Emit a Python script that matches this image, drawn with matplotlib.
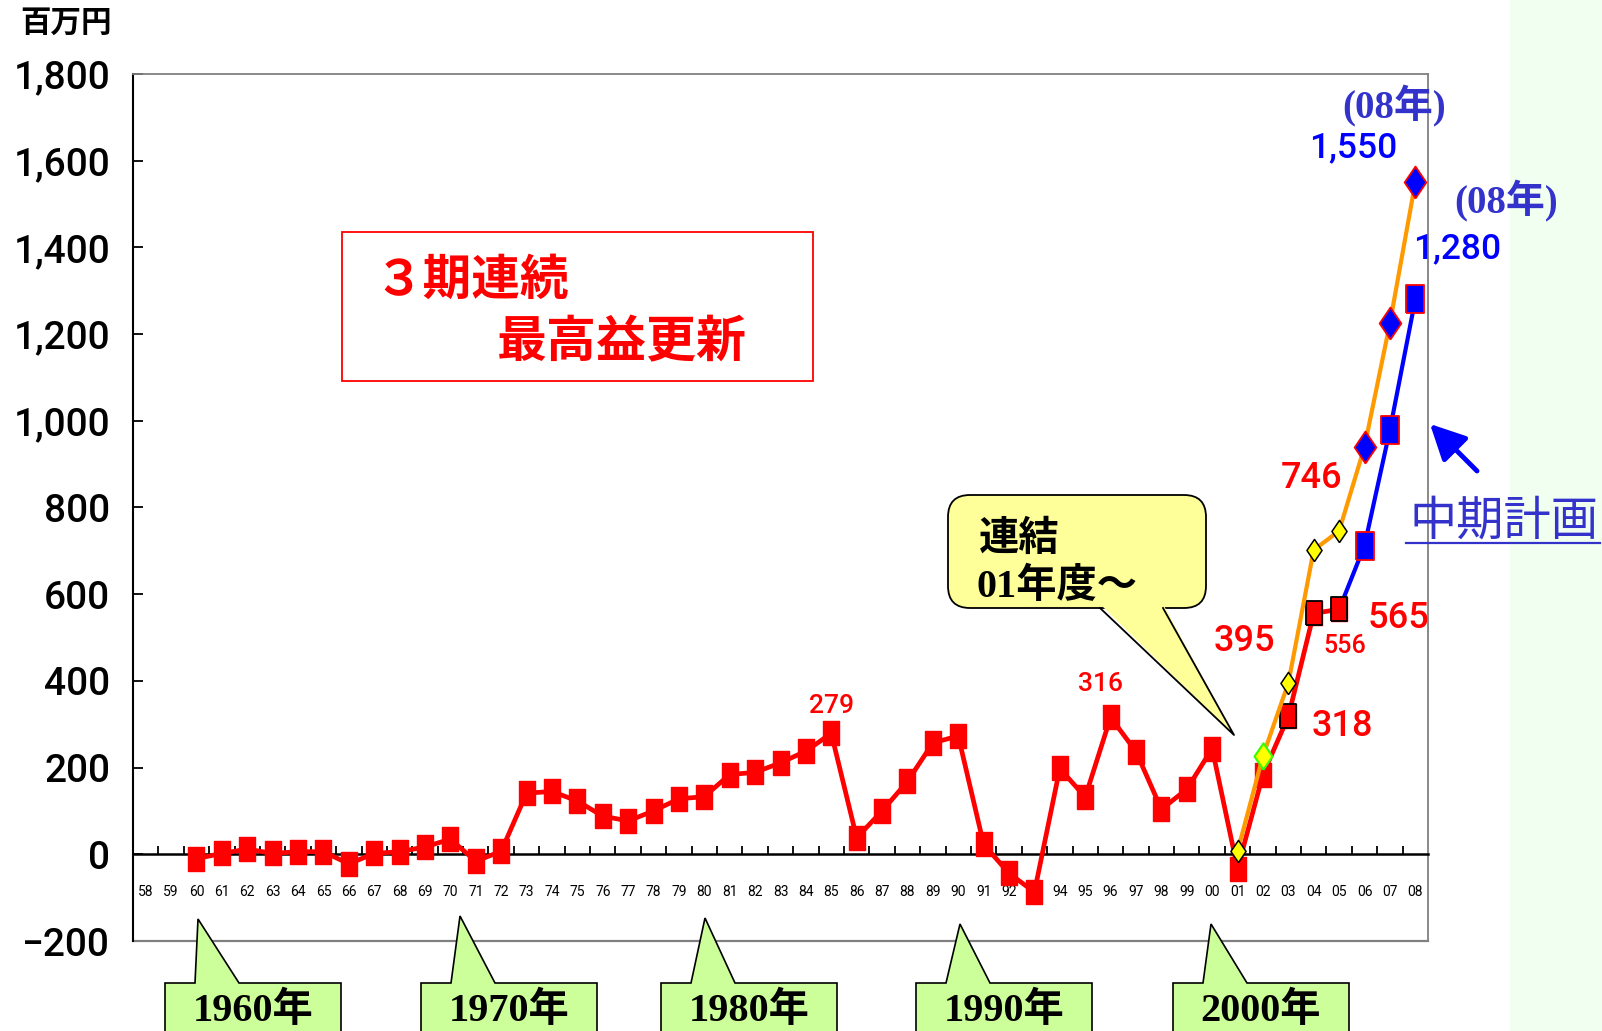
import numpy as np
import matplotlib
matplotlib.use('Agg')
import matplotlib.pyplot as plt
from matplotlib.patches import Polygon, Rectangle, FancyBboxPatch
from matplotlib import font_manager as fm


def has_font(name):
    try:
        fm.findfont(fm.FontProperties(family=name), fallback_to_default=False)
        return True
    except Exception:
        return False


NARROW = 'Liberation Sans Narrow' if has_font('Liberation Sans Narrow') else 'Roboto'
CJK = 'Noto Sans CJK JP'
SERIF = 'Liberation Serif'
plt.rcParams['font.family'] = [NARROW, CJK, 'DejaVu Sans']

# ---------------- data ----------------
years = ['58', '59', '60', '61', '62', '63', '64', '65', '66', '67', '68', '69',
         '70', '71', '72', '73', '74', '75', '76', '77', '78', '79',
         '80', '81', '82', '83', '84', '85', '86', '87', '88', '89',
         '90', '91', '92', '93', '94', '95', '96', '97', '98', '99',
         '00', '01', '02', '03', '04', '05', '06', '07', '08']

actual_years = years[2:48]          # 60 .. 05 (実績)
actual = [-10, 2, 12, 2, 6, 6, -22, 2, 6, 17,
          35, -16, 7, 141, 145, 123, 88, 77, 100, 128,
          133, 184, 189, 211, 238, 279, 38, 100, 168, 257,
          273, 23, -44, -87, 198, 132, 316, 237, 104, 150,
          244, -33, 184, 318, 556, 565]

consol_years = years[43:51]         # 01 .. 08 (連結)
consol = [7, 227, 395, 702, 746, 940, 1225, 1550]

plan_years = years[47:51]           # 05 .. 08 (中期計画)
plan = [565, 712, 979, 1280]

ytick_vals = [-200, 0, 200, 400, 600, 800, 1000, 1200, 1400, 1600, 1800]
ytick_labels = ['\u2212200', '0', '200', '400', '600', '800',
                '1,000', '1,200', '1,400', '1,600', '1,800']

decades = ['1960年', '1970年', '1980年', '1990年', '2000年']

# ---------------- figure ----------------
W, H = 1602, 1031
fig = plt.figure(figsize=(W / 100, H / 100), dpi=100)
fig.patch.set_facecolor('white')

# background layer (pale green band at right)
bg = fig.add_axes([0, 0, 1, 1], zorder=-5)
bg.set_xlim(0, W)
bg.set_ylim(H, 0)
bg.axis('off')
bg.add_patch(Rectangle((1510, 0), W - 1510, H, facecolor='#f0fff0',
                       edgecolor='none'))

L, R, T, B = 133, 1428, 74, 941
ax = fig.add_axes([L / W, 1 - B / H, (R - L) / W, (B - T) / H], zorder=0)
ax.set_facecolor('white')
ax.set_xlim(-0.5, len(years) - 0.5)
ax.set_ylim(-200, 1800)

idx = {y: i for i, y in enumerate(years)}
xa = np.array([idx[y] for y in actual_years])
xc = np.array([idx[y] for y in consol_years])
xp = np.array([idx[y] for y in plan_years])
actual = np.array(actual)
consol = np.array(consol)
plan = np.array(plan)

rect_m = [(-0.64, -1), (0.64, -1), (0.64, 1), (-0.64, 1), (-0.64, -1)]
rect_b = [(-0.65, -1), (0.65, -1), (0.65, 1), (-0.65, 1), (-0.65, -1)]
diam_m = [(0, -1), (0.68, 0), (0, 1), (-0.68, 0), (0, -1)]

# red actual line
ax.plot(xa, actual, color='#ff0000', lw=3.4, marker=rect_m, ms=17,
        mfc='#ff0000', mec='#ff0000', mew=1, zorder=3, solid_joinstyle='miter')
ax.plot(xa[-3:], actual[-3:], ls='none', marker=rect_m, ms=17,
        mfc='#ff0000', mec='black', mew=1.3, zorder=4)

# blue plan line
ax.plot(xp, plan, color='#0000ff', lw=3, zorder=3)
ax.plot(xp[1:], plan[1:], ls='none', marker=rect_b, ms=20,
        mfc='#0000ff', mec='#ff0000', mew=1.3, zorder=4)

# orange consolidated line
ax.plot(xc, consol, color='#ff9900', lw=3, zorder=5)
sel = [0, 2, 3, 4]
ax.plot(xc[sel], consol[sel], ls='none', marker=diam_m, ms=16,
        mfc='#ffff00', mec='black', mew=1.1, zorder=6)
ax.plot(xc[1:2], consol[1:2], ls='none', marker=diam_m, ms=19,
        mfc='#ffff00', mec='#33ff00', mew=1.5, zorder=6)
ax.plot(xc[5:], consol[5:], ls='none', marker=diam_m, ms=23,
        mfc='#0000ff', mec='#ff0000', mew=1.3, zorder=6)

# axes styling
for s in ['top', 'right']:
    ax.spines[s].set_color('#808080')
    ax.spines[s].set_linewidth(1.3)
ax.spines['left'].set_color('black')
ax.spines['left'].set_linewidth(1.5)
ax.spines['bottom'].set_position(('data', 0))
ax.spines['bottom'].set_color('black')
ax.spines['bottom'].set_linewidth(1.8)
ax.plot([0, 1], [0, 0], transform=ax.transAxes, color='#808080', lw=1.6,
        clip_on=False, zorder=2)

ax.set_yticks(ytick_vals)
ax.set_yticklabels(ytick_labels, fontsize=28, fontfamily=NARROW,
                   fontweight='medium')
ax.tick_params(axis='y', direction='in', length=7, width=1.3, pad=16.5)

ax.set_xticks(np.arange(len(years)))
ax.set_xticklabels(years, fontsize=10, fontfamily=NARROW)
ax.set_xticks(np.arange(len(years) - 1) + 0.5, minor=True)
ax.tick_params(axis='x', which='major', length=0, pad=22)
ax.tick_params(axis='x', which='minor', direction='in', length=6, width=1.3)


# data labels
def lab(i, v, text, dx, dy, size, color):
    ax.annotate(text, xy=(i, v), xytext=(dx, dy), textcoords='offset pixels',
                ha='center', va='center', fontsize=size, color=color,
                fontfamily=NARROW, fontweight='medium', zorder=8)


xa_l = list(xa)
xc_l = list(xc)
i85 = idx['85']; i96 = idx['96']; i03 = idx['03']; i04 = idx['04']
i05 = idx['05']; i08 = idx['08']
lab(i85, actual[xa_l.index(i85)], f'{actual[xa_l.index(i85)]}', 0, 27, 19, '#ff0000')
lab(i96, actual[xa_l.index(i96)], f'{actual[xa_l.index(i96)]}', -10, 33, 19, '#ff0000')
lab(i03, consol[xc_l.index(i03)], f'{consol[xc_l.index(i03)]}', -44, 42, 26, '#ff0000')
lab(i03, actual[xa_l.index(i03)], f'{actual[xa_l.index(i03)]}', 54, -10, 26, '#ff0000')
lab(i04, actual[xa_l.index(i04)], f'{actual[xa_l.index(i04)]}', 31, -33, 18, '#ff0000')
lab(i05, actual[xa_l.index(i05)], f'{actual[xa_l.index(i05)]}', 59, -9, 26, '#ff0000')
lab(i05, consol[xc_l.index(i05)], f'{consol[xc_l.index(i05)]}', -28, 52, 26, '#ff0000')
lab(i08, consol[-1], f'{consol[-1]:,}', -62, 35, 25.5, '#0000ff')
lab(i08, plan[-1], f'{plan[-1]:,}', 42, 51, 25.5, '#0000ff')

# ---------------- overlay (pixel coordinates) ----------------
ov = fig.add_axes([0, 0, 1, 1], zorder=10)
ov.set_xlim(0, W)
ov.set_ylim(H, 0)
ov.axis('off')
ov.patch.set_alpha(0)

# unit label
ov.text(66, 23, '百万円', ha='center', va='center', fontsize=22,
        fontweight='bold', fontfamily=[CJK], color='black')

# red box
ov.add_patch(Rectangle((342, 232), 813 - 342, 381 - 232, facecolor='white',
                       edgecolor='#ff0000', lw=1.3, zorder=1))
ov.text(374, 280, '３期連続', ha='left', va='center', fontsize=35,
        fontweight='bold', fontfamily=[CJK], color='#ff0000', zorder=2)
ov.text(497, 343, '最高益更新', ha='left', va='center', fontsize=36,
        fontweight='bold', fontfamily=[CJK], color='#ff0000', zorder=2)

# callout 連結
ov.add_patch(FancyBboxPatch((948, 495), 1206 - 948, 608 - 495,
                            boxstyle='round,pad=0,rounding_size=22',
                            facecolor='#ffff99', edgecolor='black', lw=1.3, zorder=1))
ov.add_patch(Polygon([(1100, 604), (1234, 735), (1163, 604)], closed=True,
                     facecolor='#ffff99', edgecolor='none', zorder=2))
ov.plot([1100, 1234, 1163], [608, 735, 608], color='black', lw=1.3, zorder=3)
ov.text(979, 540, '連結', ha='left', va='center', fontsize=29, fontweight='bold',
        fontfamily=[SERIF, CJK], color='black', zorder=4)
ov.text(977, 587, '01年度～', ha='left', va='center', fontsize=29, fontweight='bold',
        fontfamily=[SERIF, CJK], color='black', zorder=4)

# decade callouts
box_left = [165, 421, 661, 916, 1173]
tip_dx = [33, 39, 44, 44, 38]
tip_y = [919, 916, 918, 924, 924]
for lbl, bl, tdx, ty in zip(decades, box_left, tip_dx, tip_y):
    br = bl + 176
    top = 983
    pts = [(bl, 1045), (bl, top), (bl + 30, top), (bl + tdx, ty),
           (bl + 74, top), (br, top), (br, 1045)]
    ov.add_patch(Polygon(pts, closed=True, facecolor='#ccff99',
                         edgecolor='black', lw=1.2, zorder=5))
    ov.text((bl + br) / 2, 1021, lbl, ha='center', va='baseline', fontsize=29,
            fontweight='bold', fontfamily=[SERIF, CJK], color='black', zorder=6)

# (08年) labels
ov.text(1394, 106, '(08年)', ha='center', va='center', fontsize=28,
        fontweight='bold', fontfamily=[SERIF, CJK], color='#3333cc')
ov.text(1506, 201, '(08年)', ha='center', va='center', fontsize=28,
        fontweight='bold', fontfamily=[SERIF, CJK], color='#3333cc')

# 中期計画 with arrow
ov.annotate('', xy=(1430, 424), xytext=(1477, 471),
            arrowprops=dict(arrowstyle='-|>,head_length=0.9,head_width=0.45',
                            mutation_scale=24, color='#0000ff', lw=3.5,
                            shrinkA=0, shrinkB=0))
ov.text(1504, 521, '中期計画', ha='center', va='center', fontsize=34,
        fontfamily=[CJK], color='#3333cc')
ov.plot([1406, 1600], [543, 543], color='#3333cc', lw=1.6)

fig.savefig('out.png', dpi=100, facecolor='white')
